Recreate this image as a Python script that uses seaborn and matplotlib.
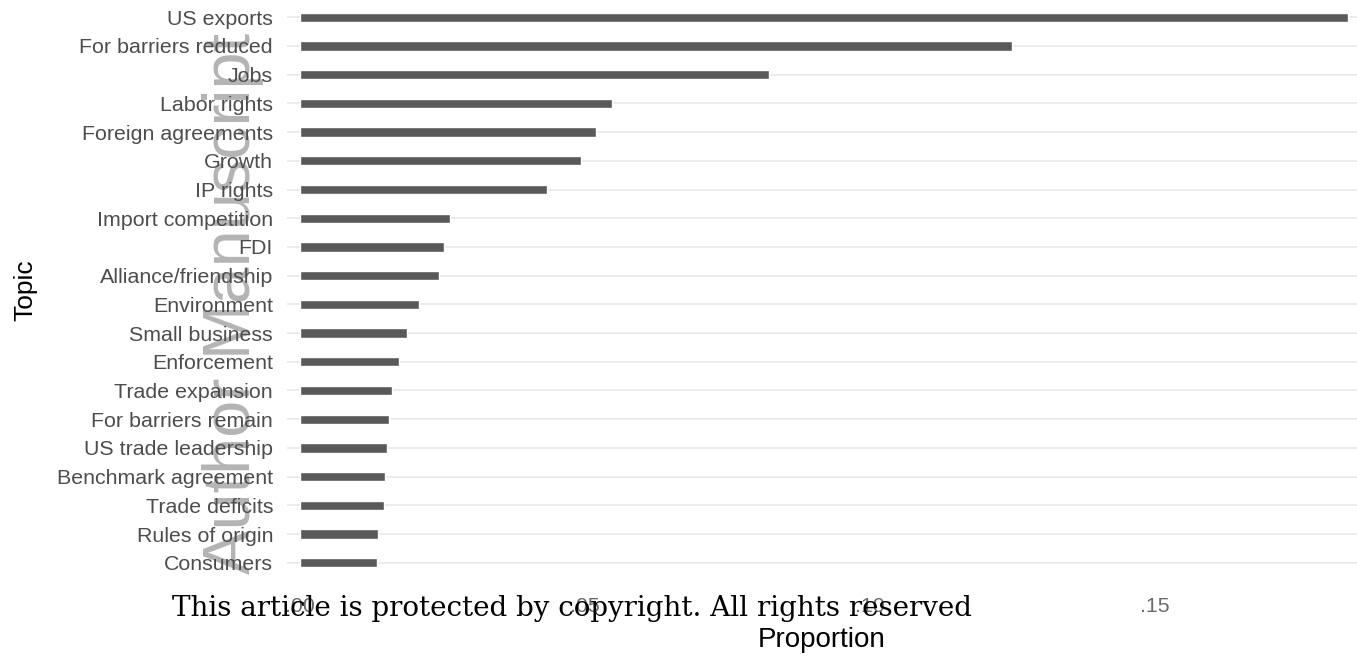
import pandas as pd
import matplotlib
matplotlib.use("Agg")
import matplotlib.pyplot as plt
import seaborn as sns

# topics, ordered top to bottom as in the chart
topics = [
    "US exports", "For barriers reduced", "Jobs", "Labor rights",
    "Foreign agreements", "Growth", "IP rights", "Import competition",
    "FDI", "Alliance/friendship", "Environment", "Small business",
    "Enforcement", "Trade expansion", "For barriers remain",
    "US trade leadership", "Benchmark agreement", "Trade deficits",
    "Rules of origin", "Consumers",
]
proportions = [
    0.1839, 0.1249, 0.0823, 0.0547, 0.0519, 0.0493, 0.0433, 0.0263,
    0.0253, 0.0244, 0.0209, 0.0188, 0.0174, 0.0161, 0.0156, 0.0153,
    0.0149, 0.0147, 0.0137, 0.0135,
]
x_ticks = [0.0, 0.05, 0.10, 0.15]
x_tick_labels = [".00", ".05", ".10", ".15"]

df = pd.DataFrame({"Topic": topics, "Proportion": proportions})

sns.set_theme(style="whitegrid")
plt.rcParams["font.family"] = ["Liberation Sans", "DejaVu Sans"]

fig = plt.figure(figsize=(13.57, 6.57), dpi=100)
ax = fig.add_axes([287 / 1357, 1 - 580 / 657, 1 - 287 / 1357, 580 / 657])
ax.patch.set_alpha(0)

sns.barplot(data=df, x="Proportion", y="Topic", order=topics,
            color="#595959", saturation=1, width=0.32, ax=ax, zorder=3)

ax.set_xlim(-13 / 5700, 1057 / 5700)
ax.set_ylim(len(topics) - 0.4, -0.6)
for s in ax.spines.values():
    s.set_visible(False)
ax.grid(False, axis="x")
ax.grid(True, axis="y", color="#ebebeb", linewidth=1.3, zorder=0)
ax.set_axisbelow(True)

ax.set_xticks(x_ticks)
ax.set_xticklabels(x_tick_labels)
ax.tick_params(axis="y", length=0, pad=10, labelsize=15.4, labelcolor="#4d4d4d")
ax.tick_params(axis="x", length=0, pad=12, labelsize=15.4, labelcolor="#6b6b6b")

ax.set_xlabel("Proportion", fontsize=20, color="black", labelpad=8)
ax.set_ylabel("Topic", fontsize=19, color="black", labelpad=14)

# manuscript watermark (behind the labels) and footer
fig.text(233 / 1357, 1 - 303 / 657, "Author Manuscript", rotation=90,
         ha="center", va="center", fontsize=48, color="#b4b4b4", zorder=-1)
fig.text(572 / 1357, 1 - 608 / 657,
         "This article is protected by copyright. All rights reserved",
         ha="center", va="center", fontsize=20, color="black",
         family=["DejaVu Serif"])

fig.savefig("out.png", dpi=100)
